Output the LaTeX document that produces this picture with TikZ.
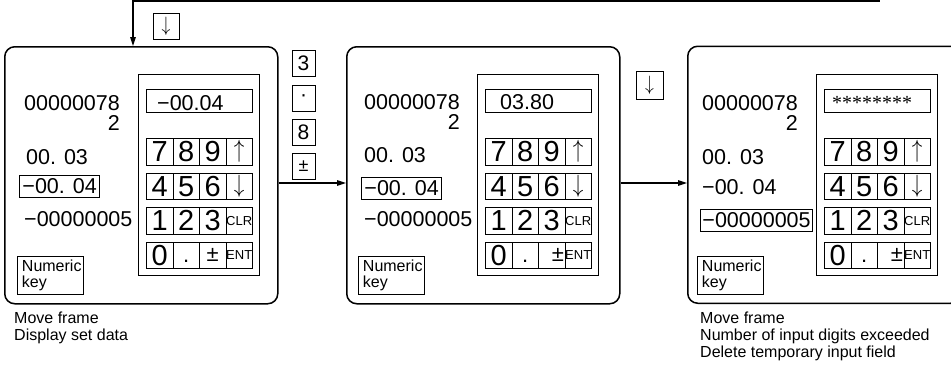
\documentclass[tikz,border=0pt]{standalone}
\usepackage{fontspec}
\usepackage{graphicx}
\setmainfont{Liberation Sans}
\newfontfamily\astfont{Liberation Serif}
\usetikzlibrary{arrows.meta,calc}
\newcommand\fs[1]{\fontsize{#1}{#1}\selectfont}
\newcommand\tup{\scalebox{0.85}[1]{$\uparrow$}}
\newcommand\tdn{\scalebox{0.85}[1]{$\downarrow$}}
\newcommand\keypad[3]{%
  \node[kpbox] (#1kp) at (#2,74) {};
  \node[field] (#1fld) at (#2+8,89) {};
  \node[keyc] (#1k7) at (#2+8,138) {7};
  \node[keyc] (#1k8) at (#2+34.5,138) {8};
  \node[keyc] (#1k9) at (#2+61,138) {9};
  \node[keyc,arrkey] (#1kup) at (#2+87.5,138) {\tup};
  \node[keyc] (#1k4) at (#2+8,172.5) {4};
  \node[keyc] (#1k5) at (#2+34.5,172.5) {5};
  \node[keyc] (#1k6) at (#2+61,172.5) {6};
  \node[keyc,arrkey] (#1kdn) at (#2+87.5,172.5) {\tdn};
  \node[keyc] (#1k1) at (#2+8,207) {1};
  \node[keyc] (#1k2) at (#2+34.5,207) {2};
  \node[keyc] (#1k3) at (#2+61,207) {3};
  \node[keyc,smallkey] (#1kclr) at (#2+87.5,207) {CLR};
  \node[keyc] (#1k0) at (#2+8,241.5) {0};
  \node[keyc,font=\fs{22}] (#1kdot) at (#2+34.5,241.5) {\vphantom{0}.};
  \node[keyc,font=\fs{22},#3] (#1kpm) at (#2+61,241.5) {±};
  \node[keyc,smallkey] (#1kent) at (#2+87.5,241.5) {ENT};
}
\begin{document}
\begin{tikzpicture}[x=1pt,y=-1pt,
  panel/.style={draw,line width=1.5,rounded corners=10,anchor=north west,minimum width=273,minimum height=257,inner sep=0},
  kpbox/.style={draw,line width=0.9,anchor=north west,minimum width=121,minimum height=201,inner sep=0},
  field/.style={draw,line width=0.9,anchor=north west,minimum width=106,minimum height=23,inner sep=0},
  keyc/.style={draw,line width=0.9,anchor=north west,minimum width=26.5,minimum height=26.5,inner sep=0,font=\fs{29}},
  arrkey/.style={font=\fs{23}},
  smallkey/.style={font=\fs{13}},
  dtext/.style={anchor=west,inner sep=0,font=\fs{21.5}},
  hbox/.style={draw,line width=0.9,anchor=west,inner xsep=3,inner ysep=0,minimum height=22,font=\fs{21.5}},
  numkey/.style={draw,line width=0.9,anchor=north west,inner xsep=4.5,inner ysep=0,text width=57,minimum height=38,align=left,font=\fontsize{16}{16.3}\selectfont},
  lbl/.style={anchor=north west,inner sep=0,align=left,font=\fontsize{16}{17.3}\selectfont},
  sbox/.style={draw,line width=0.9,minimum width=23,minimum height=26,inner sep=0,font=\fs{21}},
  conn/.style={line width=1.2,-{Triangle[length=9,width=5.5]}}]
\useasboundingbox (0,0) rectangle (951,370);
\clip (0,0) rectangle (951,370);

% panels
\node[panel] (p1) at (4,46) {};
\node[panel] (p2) at (346,46) {};
\node[panel] (p3) at (687,45.5) {};

% panel 1
\keypad{p1}{138}{}
\node[dtext] (p1disp) at (157,103.5) {−00.04};
\node[dtext] (p1a) at (24,103.5) {00000078};
\node[dtext,anchor=east] (p1b) at ($(p1a.east)+(0,19.5)$) {2};
\node[dtext] (p1c) at (26,157) {00. 03};
\node[hbox,minimum width=80] (p1d) at (19,186) {−00. 04};
\node[dtext] (p1e) at (24,219) {−00000005};
\node[numkey] (p1n) at (17,256) {Numeric\\key};
\node[lbl] (p1l) at (14,311.3) {Move frame\\Display set data};

% panel 2
\keypad{p2}{477}{text width=24.5,align=right}
\node[dtext] (p2disp) at (500,102.5) {03.80};
\node[dtext] (p2a) at (364,102.5) {00000078};
\node[dtext,anchor=east] (p2b) at ($(p2a.east)+(0,19.5)$) {2};
\node[dtext] (p2c) at (364,155.5) {00. 03};
\node[hbox] (p2d) at (361,188) {−00. 04};
\node[dtext] (p2e) at (364,219.5) {−00000005};
\node[numkey] (p2n) at (358,256) {Numeric\\key};

% panel 3
\keypad{p3}{816}{text width=24.5,align=right}
\node[anchor=west,inner sep=0,font=\astfont\fs{20}] (p3disp) at (832,102.5) {********};
\node[dtext] (p3a) at (702,103.5) {00000078};
\node[dtext,anchor=east] (p3b) at ($(p3a.east)+(0,19.5)$) {2};
\node[dtext] (p3c) at (702,157) {00. 03};
\node[dtext] (p3d) at (702,187.5) {−00. 04};
\node[hbox,inner xsep=2] (p3e) at (700,220) {−00000005};
\node[numkey] (p3n) at (697,256) {Numeric\\key};
\node[lbl] (p3l) at (700,311.3) {Move frame\\Number of input digits exceeded\\Delete temporary input field};

% key boxes between panels
\node[sbox] (s3) at (303.5,63.5) {3};
\node[sbox] (sdot) at (303.5,98) {·};
\node[sbox] (s8) at (303.5,132) {8};
\node[sbox,font=\fs{18}] (spm) at (303.5,166) {±};
\node[sbox,minimum width=26,font=\fs{22}] (d1) at (166,26) {\tdn};
\node[sbox,minimum width=27,minimum height=28,font=\fs{22}] (d2) at (649.5,85) {\tdn};

% connectors
\coordinate (row) at (0,183);
\draw[conn] (p1.east |- row) -- (p2.west |- row);
\draw[conn] (p2.east |- row) -- (p3.west |- row);
\coordinate (fb) at (879,-6);
\coordinate (fbx) at (133,1);
\draw[conn] (fb) |- (fbx) -- (fbx |- p1.north);
\end{tikzpicture}
\end{document}
